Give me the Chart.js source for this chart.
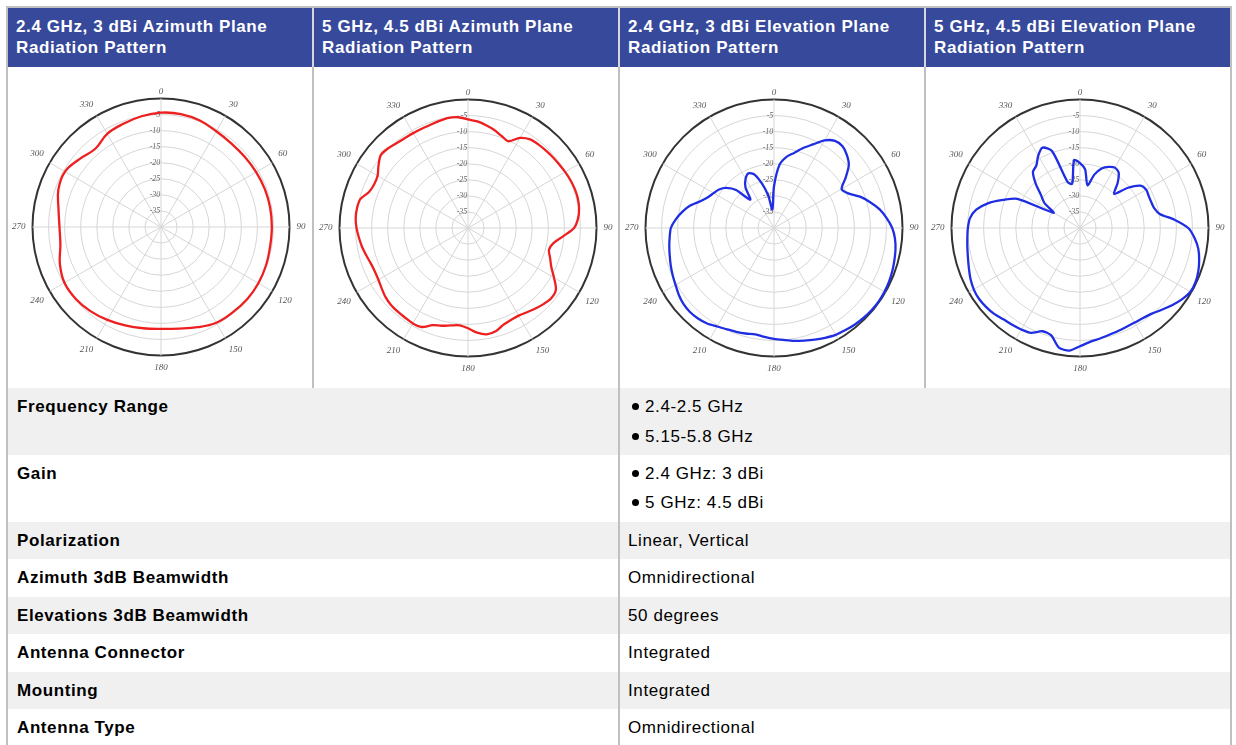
<!DOCTYPE html>
<html>
<head>
<meta charset="utf-8">
<script src="https://cdn.jsdelivr.net/npm/chart.js@4.4.1/dist/chart.umd.min.js"></script>
<style>
  body { margin: 0; background: #fff; font-family: "Liberation Sans", Arial, sans-serif; color: #000; }
  .line { position: absolute; background: #c0c0c0; }
  .hdr { position: absolute; top: 8px; height: 59px; background: #36499b; color: #fff; font-weight: bold;
         font-size: 17px; letter-spacing: 0.6px; line-height: 21px; padding: 8px 8px 0 8px; box-sizing: border-box; }
  .row { position: absolute; left: 8px; width: 1222px; }
  .grey { background: #f0f0f0; }
  .lbl { position: absolute; left: 17px; font-weight: bold; font-size: 17px; letter-spacing: 0.6px; line-height: 20px; }
  .val { position: absolute; left: 628px; font-size: 17px; letter-spacing: 0.6px; line-height: 20px; }
  .bul { position: absolute; left: 645px; font-size: 17px; letter-spacing: 0.6px; line-height: 20px; }
  .bul::before { content: ""; position: absolute; left: -13px; top: 6px; width: 7px; height: 7px; border-radius: 50%; background: #000; }
  .chartBox { position: absolute; top: 79px; width: 299px; height: 299px; }
</style>
</head>
<body>

<!-- frame -->
<div class="line" style="left:6px;top:6px;width:1226px;height:2px"></div>
<div class="line" style="left:6px;top:6px;width:2px;height:739px"></div>
<div class="line" style="left:1230px;top:6px;width:2px;height:739px"></div>

<!-- header -->
<div class="hdr" style="left:8px;width:304px">2.4 GHz, 3 dBi Azimuth Plane<br>Radiation Pattern</div>
<div class="hdr" style="left:314px;width:304px">5 GHz, 4.5 dBi Azimuth Plane<br>Radiation Pattern</div>
<div class="hdr" style="left:620px;width:304px">2.4 GHz, 3 dBi Elevation Plane<br>Radiation Pattern</div>
<div class="hdr" style="left:926px;width:304px">5 GHz, 4.5 dBi Elevation Plane<br>Radiation Pattern</div>
<div class="line" style="left:312px;top:8px;width:2px;height:59px;background:#d6d6d6"></div>
<div class="line" style="left:618px;top:8px;width:2px;height:59px;background:#d6d6d6"></div>
<div class="line" style="left:924px;top:8px;width:2px;height:59px;background:#d6d6d6"></div>

<!-- chart row separators -->
<div class="line" style="left:312px;top:67px;width:2px;height:321px"></div>
<div class="line" style="left:618px;top:67px;width:2px;height:321px"></div>
<div class="line" style="left:924px;top:67px;width:2px;height:321px"></div>

<div class="chartBox" style="left:10px"><canvas id="c1"></canvas></div>
<div class="chartBox" style="left:317px"><canvas id="c2"></canvas></div>
<div class="chartBox" style="left:623px"><canvas id="c3"></canvas></div>
<div class="chartBox" style="left:929px"><canvas id="c4"></canvas></div>

<!-- spec rows -->
<div class="row grey" style="top:388px;height:67px"></div>
<div class="row grey" style="top:522px;height:37px"></div>
<div class="row grey" style="top:597px;height:37px"></div>
<div class="row grey" style="top:672px;height:37px"></div>
<div class="line" style="left:618px;top:388px;width:2px;height:357px"></div>

<div class="lbl" style="top:397px">Frequency Range</div>
<div class="bul" style="top:397px">2.4-2.5 GHz</div>
<div class="bul" style="top:427px">5.15-5.8 GHz</div>

<div class="lbl" style="top:464px">Gain</div>
<div class="bul" style="top:464px">2.4 GHz: 3 dBi</div>
<div class="bul" style="top:493px">5 GHz: 4.5 dBi</div>

<div class="lbl" style="top:531px">Polarization</div>
<div class="val" style="top:531px">Linear, Vertical</div>
<div class="lbl" style="top:568px">Azimuth 3dB Beamwidth</div>
<div class="val" style="top:568px">Omnidirectional</div>
<div class="lbl" style="top:606px">Elevations 3dB Beamwidth</div>
<div class="val" style="top:606px">50 degrees</div>
<div class="lbl" style="top:643px">Antenna Connector</div>
<div class="val" style="top:643px">Integrated</div>
<div class="lbl" style="top:681px">Mounting</div>
<div class="val" style="top:681px">Integrated</div>
<div class="lbl" style="top:718px">Antenna Type</div>
<div class="val" style="top:718px">Omnidirectional</div>

<script>
// angle categories (degrees, clockwise from top)
const ANGLES_10 = [0, 10, 20, 30, 40, 50, 60, 70, 80, 90, 100, 110, 120, 130, 140, 150, 160, 170,
  180, 190, 200, 210, 220, 230, 240, 250, 260, 270, 280, 290, 300, 310, 320, 330, 340, 350];
const ANGLES_5 = [0, 5, 10, 15, 20, 25, 30, 35, 40, 45, 50, 55, 60, 65, 70, 75, 80, 85,
  90, 95, 100, 105, 110, 115, 120, 125, 130, 135, 140, 145, 150, 155, 160, 165, 170, 175,
  180, 185, 190, 195, 200, 205, 210, 215, 220, 225, 230, 235, 240, 245, 250, 255, 260, 265,
  270, 275, 280, 285, 290, 295, 300, 305, 310, 315, 320, 325, 330, 335, 340, 345, 350, 355];

// radial ticks (dB)
const R_MIN = -40;
const R_MAX = 0;
const R_STEP = 5;

// 2.4 GHz azimuth, 10 deg steps
const az24 = [-4.4, -4.3, -4.7, -5.6, -6.0, -6.0, -5.8, -5.6, -5.5, -5.5, -5.5, -5.2,
  -5.0, -5.0, -5.3, -5.6, -6.8, -7.9, -8.3, -8.0, -7.4, -6.6, -5.8, -5.3,
  -5.3, -6.5, -8.2, -8.4, -7.6, -6.0, -5.5, -7.0, -8.2, -6.5, -5.8, -5.0];

// 5 GHz azimuth, 5 deg steps
const az5 = [-6.2, -6.7, -7.5, -8.4, -9.5, -10.2, -7.6, -6.3, -6.0, -5.8, -5.6, -5.4,
  -5.1, -4.8, -4.6, -4.6, -4.9, -5.6, -7.0, -10.3, -13.0, -13.9, -12.8, -11.4,
  -9.1, -6.6, -6.1, -6.6, -7.3, -8.0, -8.5, -8.4, -7.9, -6.7, -6.4, -7.3,
  -8.8, -9.6, -9.2, -8.5, -7.8, -6.0, -5.7, -5.9, -6.0, -6.1, -6.5, -7.2,
  -7.8, -8.0, -7.8, -7.2, -6.5, -5.9, -5.3, -4.9, -4.9, -5.3, -7.2, -7.8,
  -7.5, -6.0, -4.6, -4.9, -5.5, -5.8, -5.9, -5.9, -5.8, -5.5, -5.2, -5.4];

// 2.4 GHz elevation, 5 deg steps
const el24 = [-27.0, -20.2, -17.5, -15.8, -13.5, -11.3, -8.5, -6.9, -6.8, -7.9, -9.6, -12.8,
  -15.7, -14.5, -11.5, -9.0, -6.6, -4.8, -3.2, -2.2, -1.6, -1.2, -0.8, -0.5,
  -0.3, -0.2, -0.3, -0.5, -0.8, -1.2, -1.6, -2.3, -3.0, -3.7, -4.3, -5.0,
  -5.5, -6.0, -6.4, -6.0, -5.6, -5.2, -4.6, -3.7, -3.2, -3.0, -3.2, -3.8,
  -4.6, -5.2, -5.8, -6.4, -6.9, -7.4, -7.9, -9.3, -11.0, -13.0, -15.6, -17.3,
  -18.3, -19.1, -20.6, -23.3, -28.5, -24.5, -22.3, -21.2, -22.3, -25.8, -29.8, -34.2];

// 5 GHz elevation, 5 deg steps
const el5 = [-19.8, -21.7, -26.5, -22.8, -20.3, -19.0, -18.3, -19.0, -21.8, -25.0, -20.5, -17.0,
  -16.2, -16.4, -16.4, -16.1, -14.8, -10.5, -6.3, -4.2, -2.6, -1.6, -0.8, -0.3,
  -0.3, -1.3, -2.6, -4.0, -5.2, -5.8, -6.0, -6.0, -5.8, -5.5, -5.0, -4.4,
  -3.2, -1.7, -2.2, -5.4, -5.8, -4.0, -3.5, -3.2, -2.9, -2.2, -1.8, -1.6,
  -1.8, -2.4, -3.2, -3.9, -4.4, -4.8, -5.1, -5.6, -7.2, -10.3, -14.5, -18.5,
  -30.5, -26.5, -24.2, -20.5, -17.2, -16.3, -14.0, -12.4, -14.5, -25.2, -26.0, -18.8];

const RED = '#ee1f1f';
const BLUE = '#1f2ee2';
const GRID = '#d6d6d6';

function tickLabel(v) {
  if (v === R_MIN || v === R_MAX) return '';
  const s = String(v);
  return s + '\u2007'.repeat(s.length);   // pad so the label sits left of the 0 deg line
}

function makePolar(id, angles, values, color, tension) {
  const ctx = document.getElementById(id).getContext('2d');
  return new Chart(ctx, {
    type: 'radar',
    data: {
      labels: angles,
      datasets: [{
        data: values,
        borderColor: color,
        borderWidth: 2.3,
        backgroundColor: 'rgba(0,0,0,0)',
        fill: false,
        pointRadius: 0,
        tension: tension,
      }],
    },
    options: {
      responsive: true,
      maintainAspectRatio: false,
      animation: false,
      layout: { padding: 0 },
      plugins: { legend: { display: false }, tooltip: { enabled: false } },
      elements: { line: { borderJoinStyle: 'round' } },
      scales: {
        r: {
          min: R_MIN,
          max: R_MAX,
          startAngle: 0,
          ticks: {
            stepSize: R_STEP,
            showLabelBackdrop: false,
            backdropPadding: 0,
            color: '#666',
            font: { family: 'Liberation Serif', style: 'italic', size: 8 },
            callback: tickLabel,
          },
          grid: {
            circular: true,
            color: c => (c.tick && c.tick.value === R_MAX ? '#333' : GRID),
            lineWidth: c => (c.tick && c.tick.value === R_MAX ? 2 : 1),
          },
          angleLines: {
            color: c => (angles[c.index] % 30 === 0 ? GRID : 'rgba(0,0,0,0)'),
            lineWidth: 1,
          },
          pointLabels: {
            // the top label gets extra room from the tick font, pull it back in
            padding: c => (c.index === 0 ? -3 : 3),
            color: '#555',
            font: { family: 'Liberation Serif', style: 'italic', size: 9 },
            callback: lbl => (lbl % 30 === 0 ? String(lbl) : ''),
          },
        },
      },
    },
  });
}

makePolar('c1', ANGLES_10, az24, RED, 0.4);
makePolar('c2', ANGLES_5, az5, RED, 0.3);
makePolar('c3', ANGLES_5, el24, BLUE, 0.25);
makePolar('c4', ANGLES_5, el5, BLUE, 0.25);
</script>
</body>
</html>
